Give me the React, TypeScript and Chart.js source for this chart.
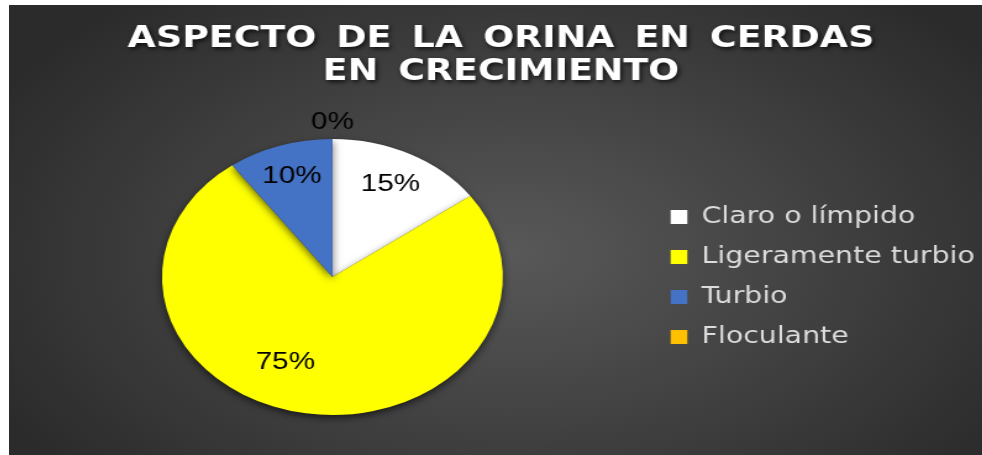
import React, { useEffect, useRef } from "react";
import { Chart, registerables } from "chart.js";

Chart.register(...registerables);

const categories = ["Claro o límpido", "Ligeramente turbio", "Turbio", "Floculante"];
const percentages = [15, 75, 10, 0];
const sliceColors = ["#ffffff", "#ffff00", "#4472c4", "#ffc000"];
const titleLines = ["ASPECTO DE LA ORINA EN CERDAS", "EN CRECIMIENTO"];

// label placement tweaks (styling only): radius factor and angle shift (deg)
const labelRadius = [0.75, 0.68, 0.77, 1.12];
const labelAngleShift = [0, 15, 0, 0];

const STRETCH = 1.235;
const CANVAS_W = 800;
const CANVAS_H = 450;

const titlePlugin = {
  id: "customTitle",
  afterDraw(chart: any) {
    const ctx = chart.ctx;
    ctx.save();
    ctx.font = 'bold 29.5px "DejaVu Sans", sans-serif';
    ctx.fillStyle = "#ffffff";
    ctx.textAlign = "center";
    ctx.textBaseline = "middle";
    try { (ctx as any).wordSpacing = "6px"; } catch (e) {}
    ctx.shadowColor = "rgba(0,0,0,0.75)";
    ctx.shadowBlur = 4;
    ctx.shadowOffsetX = 1.5;
    ctx.shadowOffsetY = 2;
    const cx = (501 - 9) / STRETCH;
    ctx.fillText(titleLines[0], cx, 34);
    ctx.fillText(titleLines[1], cx, 67.5);
    ctx.restore();
  },
};

const shadowPlugin = {
  id: "pieShadow",
  beforeDatasetsDraw(chart: any) {
    const ctx = chart.ctx;
    ctx.save();
    ctx.shadowColor = "rgba(0,0,0,0.6)";
    ctx.shadowBlur = 7;
    ctx.shadowOffsetX = 0;
    ctx.shadowOffsetY = 3;
  },
  afterDatasetsDraw(chart: any) {
    chart.ctx.restore();
  },
};

const labelPlugin = {
  id: "sliceLabels",
  afterDraw(chart: any) {
    const ctx = chart.ctx;
    const meta = chart.getDatasetMeta(0);
    ctx.save();
    ctx.font = '24px "Liberation Sans", Arial, sans-serif';
    ctx.fillStyle = "#000000";
    ctx.textAlign = "center";
    ctx.textBaseline = "middle";
    meta.data.forEach((arc: any, i: number) => {
      const p = arc.getProps(["x", "y", "startAngle", "endAngle", "outerRadius"], true);
      const mid = (p.startAngle + p.endAngle) / 2 + (labelAngleShift[i] * Math.PI) / 180;
      const r = p.outerRadius * labelRadius[i];
      const x = p.x + Math.cos(mid) * r;
      const y = p.y + Math.sin(mid) * r;
      ctx.fillText(percentages[i] + "%", x, y);
    });
    ctx.restore();
  },
};

export default function App() {
  const ref = useRef<HTMLCanvasElement>(null);
  useEffect(() => {
    if (!ref.current) return;
    const chart = new Chart(ref.current, {
      type: "pie",
      data: {
        labels: categories,
        datasets: [
          {
            data: percentages,
            backgroundColor: sliceColors,
            borderWidth: 0,
          },
        ],
      },
      options: {
        animation: false,
        responsive: false,
        devicePixelRatio: 1,
        layout: { padding: { top: 134, bottom: 40, left: 5, right: 8 } },
        plugins: {
          title: { display: false },
          tooltip: { enabled: false },
          legend: {
            display: true,
            position: "right",
            align: "center",
            labels: {
              boxWidth: 13.5,
              boxHeight: 14,
              padding: 17,
              color: "#dcdcdc",
              font: { family: '"DejaVu Sans", sans-serif', size: 23 },
            },
          },
        },
      },
      plugins: [shadowPlugin, labelPlugin, titlePlugin],
    });
    return () => chart.destroy();
  }, []);

  return (
    <div
      style={{
        position: "absolute",
        left: 9,
        top: 5,
        width: 973,
        height: 450,
        overflow: "hidden",
        background:
          "radial-gradient(ellipse 60% 75% at 52% 55%, #585858 0%, #424242 50%, #2b2b2b 100%)",
      }}
    >
      <canvas
        ref={ref}
        width={CANVAS_W}
        height={CANVAS_H}
        style={{
          position: "absolute",
          left: 0,
          top: 0,
          transform: `scaleX(${STRETCH})`,
          transformOrigin: "0 0",
        }}
      />
    </div>
  );
}
